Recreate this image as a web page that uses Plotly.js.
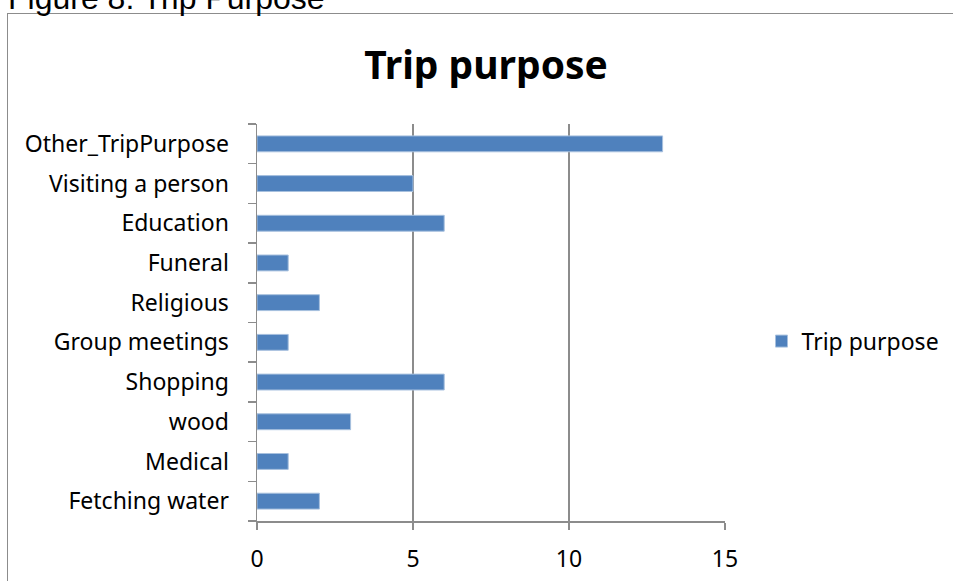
<!DOCTYPE html>
<html>
<head>
<meta charset="utf-8">
<script src="https://cdn.plot.ly/plotly-3.0.1.min.js"></script>
<style>
  html, body { margin:0; padding:0; background:#fff; overflow:hidden; }
  #frame { position:absolute; left:7px; top:13px; width:1000px; height:1000px; border:1.5px solid #8c8c8c; box-sizing:border-box; }
  #chart { position:absolute; left:0; top:0; width:953px; height:581px; }
</style>
</head>
<body>
<div id="frame"></div>
<div id="chart"></div>
<script>
const categories = ["Fetching water", "Medical", "wood", "Shopping", "Group meetings", "Religious", "Funeral", "Education", "Visiting a person", "Other_TripPurpose"];
const values = [2, 1, 3, 6, 1, 2, 1, 6, 5, 13];
const seriesName = "Trip purpose";
const chartTitle = "Trip purpose";
const caption = "Figure 8: Trip Purpose";
const xTicks = [0, 5, 10, 15];

const font = "Noto Sans, Open Sans, sans-serif";

Plotly.newPlot("chart", [{
  type: "bar",
  orientation: "h",
  y: categories,
  x: values,
  name: seriesName,
  marker: { color: "#4F81BD", line: { color: "#A7C0DE", width: 1 } },
  showlegend: true
}], {
  width: 953, height: 581,
  paper_bgcolor: "rgba(0,0,0,0)",
  plot_bgcolor: "rgba(0,0,0,0)",
  margin: { l: 257, r: 228, t: 124, b: 60, autoexpand: false },
  bargap: 0.6,
  title: { text: "<b>" + chartTitle + "</b>", font: { family: font, size: 39, color: "#000" }, x: 0.51, xanchor: "center", y: 0.888, yanchor: "middle" },
  xaxis: {
    range: [0, 15], tickvals: xTicks, ticktext: xTicks.map(String),
    showgrid: true, gridcolor: "#8c8c8c", gridwidth: 1.5,
    zeroline: false, showline: true, linecolor: "#8c8c8c", linewidth: 1.5,
    ticks: "outside", ticklen: 7, tickcolor: "#8c8c8c", tickwidth: 1.5,
    tickfont: { family: font, size: 23, color: "#000" },
    ticklabelstandoff: 10, fixedrange: true
  },
  yaxis: {
    type: "category", tickson: "boundaries",
    showgrid: false, zeroline: false, showline: true, linecolor: "#8c8c8c", linewidth: 1.5,
    ticks: "outside", ticklen: 8, tickcolor: "#8c8c8c", tickwidth: 1.5,
    tickfont: { family: font, size: 23, color: "#000" },
    ticklabelstandoff: 22, fixedrange: true
  },
  legend: {
    x: 1.078, xanchor: "left", y: 0.453, yanchor: "middle",
    font: { family: font, size: 23, color: "#000" },
    bgcolor: "rgba(0,0,0,0)"
  },
  annotations: [{
    text: caption, xref: "paper", yref: "paper", x: -257/468, y: 1, xanchor: "left", yanchor: "bottom",
    yshift: 106, xshift: 6, showarrow: false,
    font: { family: "Liberation Sans, Arial, sans-serif", size: 32, color: "#000" }
  }]
}, { displayModeBar: false, staticPlot: true });
</script>
</body>
</html>
